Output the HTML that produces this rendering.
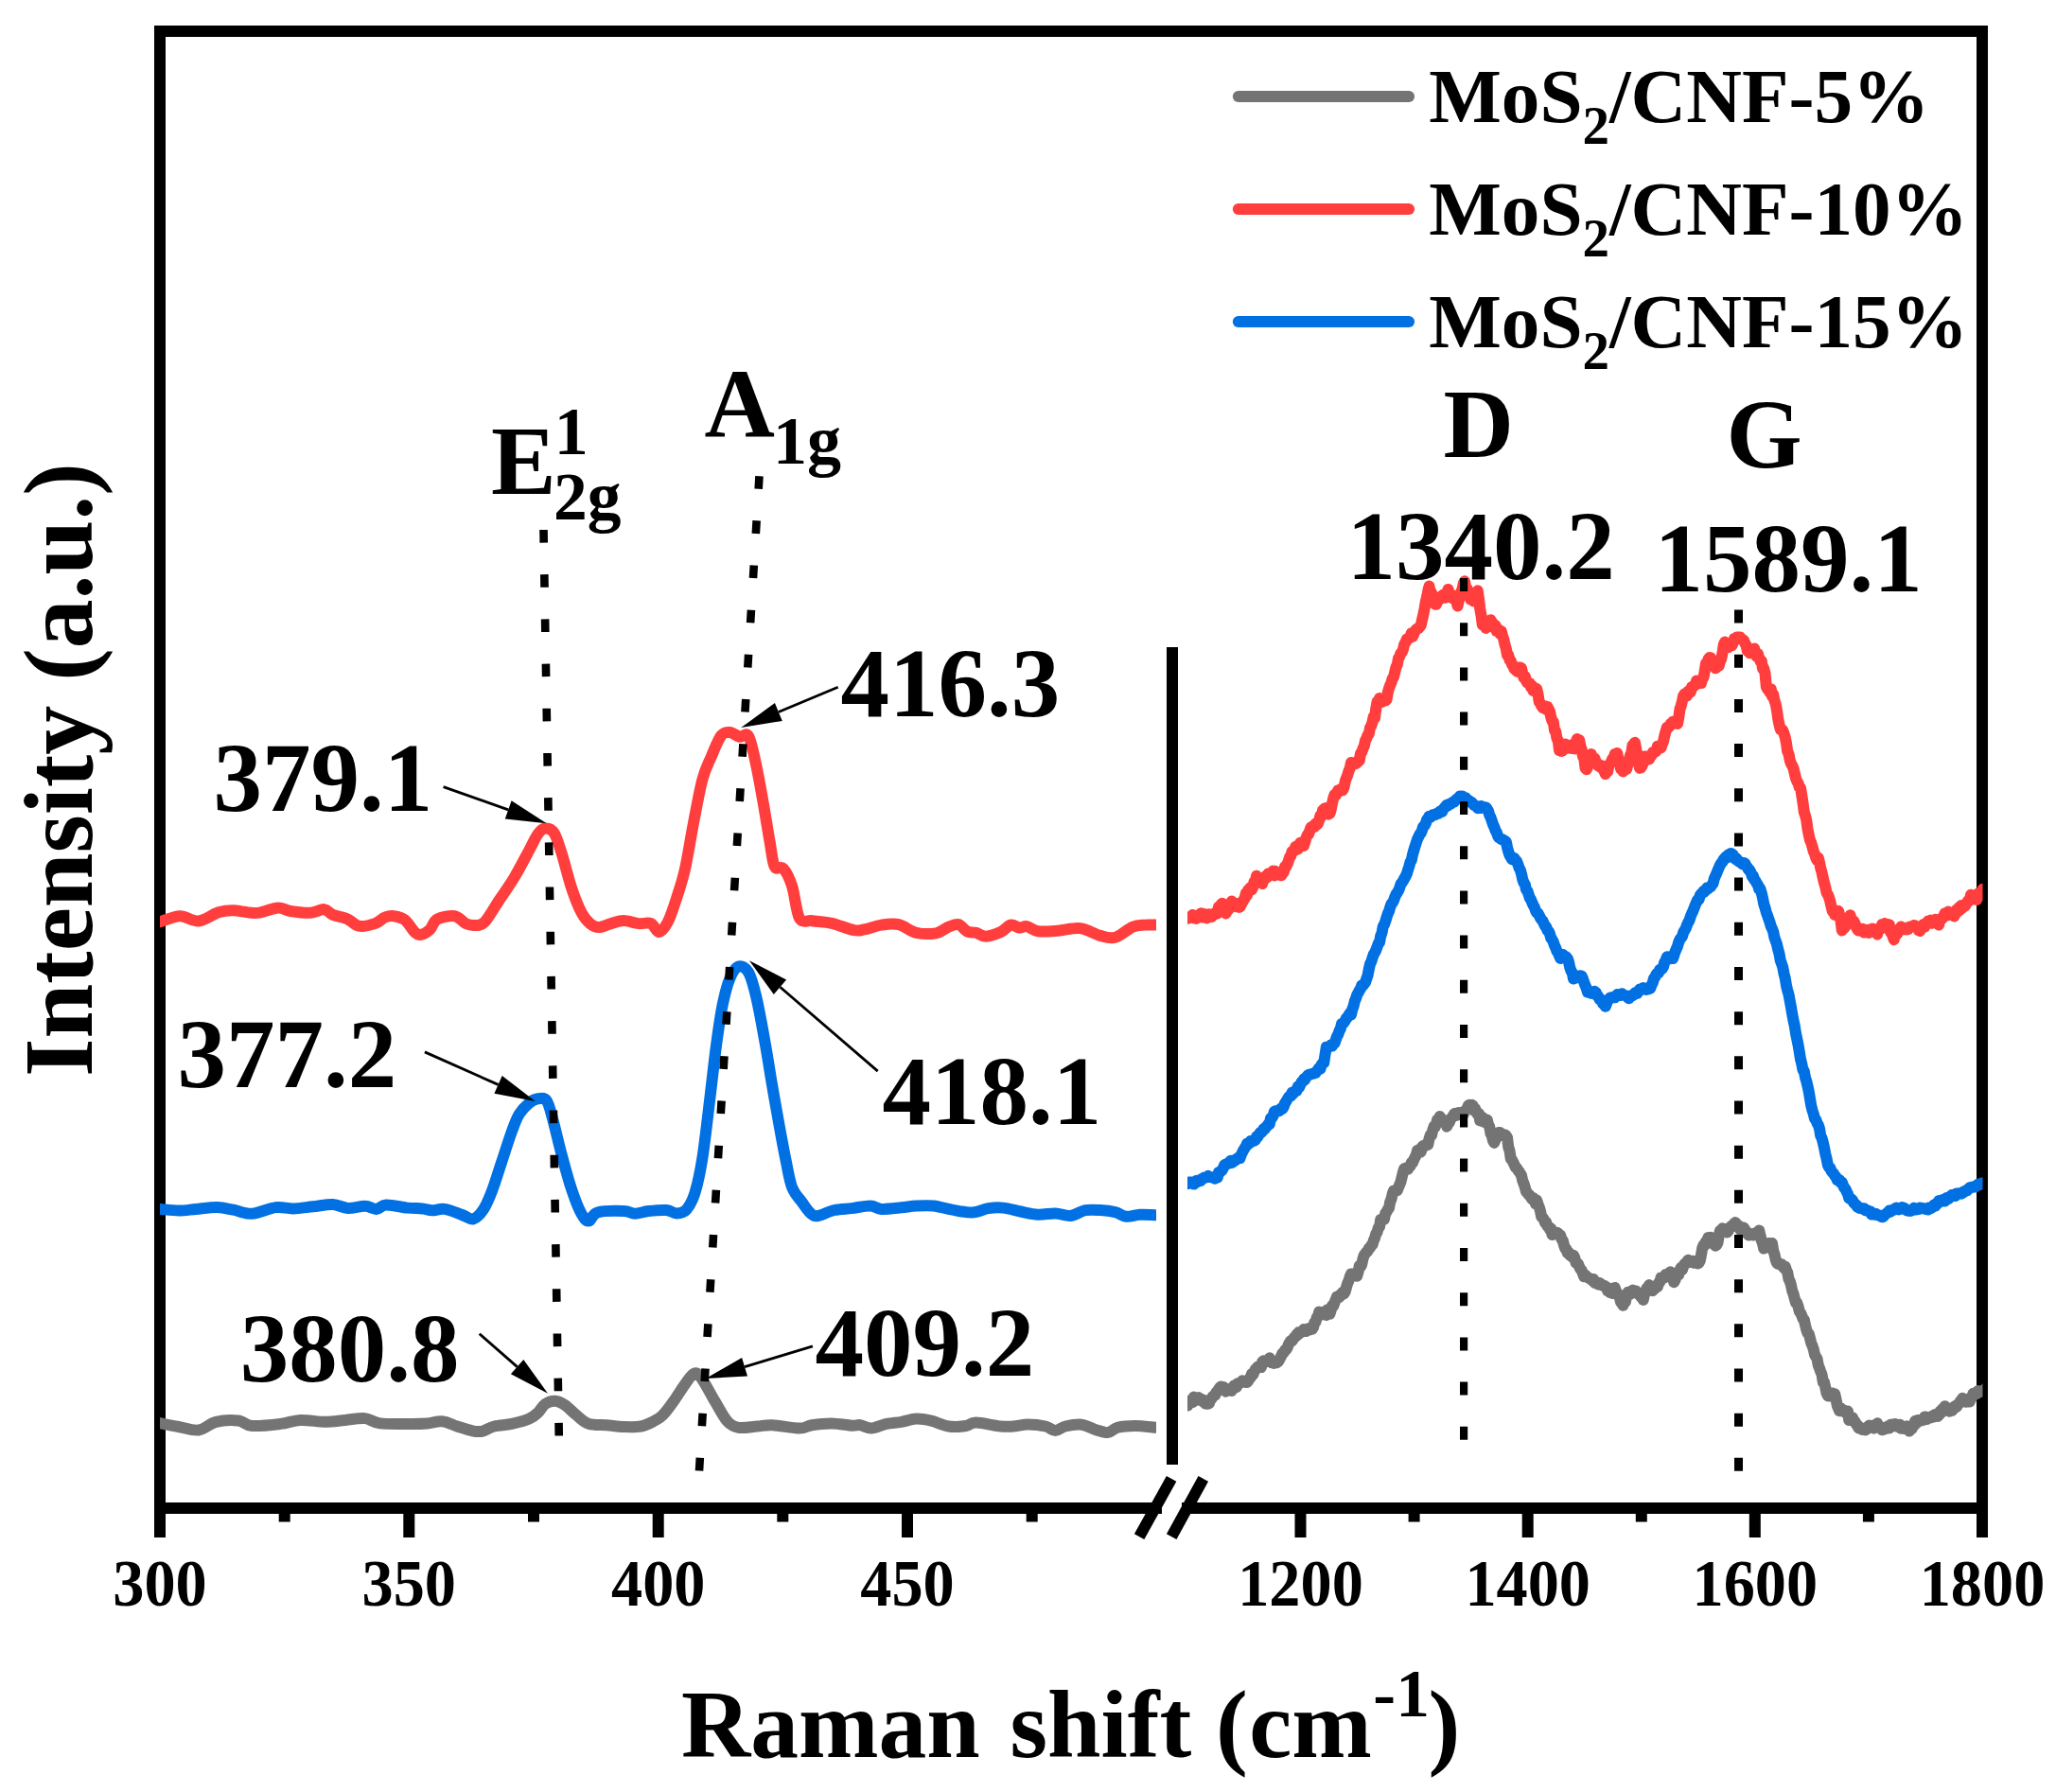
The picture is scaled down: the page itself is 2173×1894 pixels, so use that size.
<!DOCTYPE html>
<html><head><meta charset="utf-8"><title>Raman spectra</title>
<style>html,body{margin:0;padding:0;background:#fff}svg{display:block}text{font-family:"Liberation Serif",serif;font-weight:bold;fill:#000}</style></head><body>
<svg width="2173" height="1894" viewBox="0 0 2173 1894">
<rect x="0" y="0" width="2173" height="1894" fill="#fff"/>
<g id="frame" fill="none" stroke="#000" stroke-width="12" stroke-linecap="butt" stroke-linejoin="miter">
<path d="M169,1600 V33 H2095 V1600"/>
<path d="M163,1594 H1228"/>
<path d="M1249,1594 H2101"/>
<path d="M1238.1,1562.9 L1204.1,1624.2"/>
<path d="M1271.8,1562.9 L1238.2,1624.1"/>
<path d="M1239,684 V1548"/>
<path d="M169.0,1599 V1625 M432.3,1599 V1625 M695.7,1599 V1625 M959.0,1599 V1625 M1374.5,1599 V1625 M1614.7,1599 V1625 M1854.8,1599 V1625 M2095.0,1599 V1625 M300.7,1599 V1608.5 M564.0,1599 V1608.5 M827.3,1599 V1608.5 M1090.7,1599 V1608.5 M1494.6,1599 V1608.5 M1734.8,1599 V1608.5 M1974.9,1599 V1608.5"/>
</g>
<defs><clipPath id="cl"><rect x="169" y="39" width="1053" height="1549"/></clipPath><clipPath id="cr"><rect x="1255" y="39" width="840.5" height="1549"/></clipPath></defs>
<g id="curvesL" clip-path="url(#cl)">
<path d="M160.0,1502.3 C161.5,1502.6 164.4,1503.1 169.2,1504.1 C174.0,1505.1 182.1,1506.8 188.9,1508.0 C195.7,1509.2 203.3,1512.4 209.9,1511.5 C216.5,1510.6 221.3,1504.5 228.3,1502.8 C235.3,1501.1 245.6,1500.8 251.9,1501.5 C258.2,1502.2 258.9,1506.4 266.4,1507.0 C273.8,1507.6 288.1,1505.9 296.6,1504.9 C305.1,1503.9 309.7,1501.2 317.6,1500.9 C325.5,1500.6 336.0,1502.8 343.9,1502.8 C351.8,1502.8 357.9,1501.5 364.9,1500.9 C371.9,1500.3 379.8,1498.5 385.9,1499.1 C392.0,1499.7 393.4,1503.4 401.7,1504.4 C410.0,1505.4 427.5,1504.9 435.8,1504.9 C444.1,1504.9 446.4,1504.8 451.6,1504.4 C456.9,1504.0 462.1,1501.8 467.3,1502.3 C472.6,1502.8 477.9,1505.8 483.1,1507.5 C488.4,1509.2 494.4,1511.3 498.8,1512.2 C503.2,1513.1 505.4,1513.6 509.4,1512.8 C513.4,1512.0 517.2,1508.8 522.5,1507.5 C527.8,1506.2 534.8,1506.2 540.9,1504.9 C547.0,1503.6 554.7,1501.6 559.3,1499.6 C563.9,1497.6 565.7,1495.7 568.5,1493.1 C571.3,1490.5 573.2,1486.0 576.3,1483.9 C579.3,1481.8 583.3,1480.5 586.8,1480.7 C590.3,1480.9 593.7,1482.7 597.4,1485.2 C601.1,1487.7 605.1,1492.4 609.2,1495.7 C613.4,1499.0 617.0,1503.2 622.3,1504.9 C627.5,1506.7 634.6,1505.7 640.7,1506.2 C646.8,1506.7 653.0,1507.8 659.1,1508.0 C665.2,1508.2 672.2,1508.5 677.5,1507.5 C682.8,1506.5 686.8,1504.3 690.6,1502.3 C694.4,1500.3 696.7,1499.7 700.5,1495.7 C704.3,1491.8 709.7,1484.1 713.6,1478.6 C717.5,1473.1 720.8,1467.4 724.1,1462.9 C727.4,1458.4 730.4,1452.9 733.3,1451.8 C736.1,1450.7 737.5,1451.4 741.2,1456.3 C744.9,1461.2 751.1,1473.5 755.7,1481.2 C760.3,1488.9 764.6,1497.7 768.8,1502.3 C772.9,1506.9 775.4,1507.9 780.6,1508.8 C785.9,1509.7 794.4,1507.9 800.3,1507.5 C806.2,1507.1 808.6,1505.9 816.1,1506.2 C823.6,1506.5 838.0,1509.6 845.0,1509.6 C852.0,1509.6 852.4,1507.1 858.1,1506.2 C863.8,1505.3 872.1,1504.3 879.1,1504.4 C886.1,1504.5 895.1,1506.4 900.1,1506.7 C905.1,1507.0 905.8,1505.7 909.3,1506.2 C912.8,1506.7 916.5,1509.8 921.1,1509.6 C925.7,1509.4 931.6,1506.0 936.9,1504.9 C942.2,1503.8 947.5,1503.7 952.7,1502.8 C958.0,1501.9 963.1,1499.8 968.4,1499.6 C973.6,1499.4 978.5,1500.4 984.2,1501.7 C989.9,1503.0 996.5,1506.6 1002.6,1507.5 C1008.7,1508.4 1016.2,1507.7 1021.0,1507.0 C1025.8,1506.3 1025.4,1503.5 1031.5,1503.6 C1037.6,1503.7 1051.1,1506.8 1057.7,1507.5 C1064.3,1508.2 1066.1,1507.8 1070.9,1507.5 C1075.7,1507.2 1080.9,1505.4 1086.6,1505.4 C1092.3,1505.4 1100.2,1506.4 1105.0,1507.5 C1109.8,1508.6 1112.0,1512.0 1115.5,1512.0 C1119.0,1512.0 1121.4,1508.5 1126.0,1507.5 C1130.6,1506.5 1137.8,1505.1 1143.1,1505.7 C1148.4,1506.3 1153.0,1509.5 1157.6,1510.9 C1162.2,1512.3 1166.8,1514.4 1170.7,1514.1 C1174.6,1513.8 1176.4,1510.0 1181.2,1508.8 C1186.0,1507.6 1192.8,1507.0 1199.6,1507.0 C1206.4,1507.0 1216.8,1508.4 1221.9,1508.8 C1227.0,1509.2 1228.7,1509.3 1230.0,1509.5" fill="none" stroke="#747474" stroke-width="12" stroke-linejoin="round" stroke-linecap="butt"/>
<path d="M160.0,1277.2 C161.5,1277.3 164.4,1277.5 169.2,1277.9 C174.0,1278.3 182.6,1279.5 188.9,1279.5 C195.2,1279.5 200.5,1278.5 207.3,1277.9 C214.1,1277.3 223.0,1276.0 229.6,1276.1 C236.2,1276.2 240.6,1277.6 246.7,1278.7 C252.8,1279.8 259.0,1283.1 266.4,1282.7 C273.8,1282.3 284.1,1277.0 291.3,1276.1 C298.5,1275.2 303.1,1277.5 309.7,1277.4 C316.3,1277.3 323.7,1276.0 330.7,1275.3 C337.7,1274.6 345.7,1272.7 351.8,1273.0 C357.9,1273.3 361.8,1276.6 367.5,1276.9 C373.2,1277.2 380.9,1274.6 385.9,1274.8 C390.9,1275.0 394.0,1278.1 397.7,1277.9 C401.4,1277.7 402.7,1273.7 408.2,1273.5 C413.7,1273.3 424.2,1275.9 430.6,1276.6 C437.0,1277.2 441.9,1277.0 446.3,1277.4 C450.7,1277.9 452.9,1279.2 456.8,1279.3 C460.8,1279.4 464.8,1277.1 470.0,1277.9 C475.2,1278.7 483.3,1282.2 488.3,1284.0 C493.3,1285.8 496.5,1289.3 500.2,1288.4 C503.9,1287.5 507.4,1283.6 510.7,1278.7 C514.0,1273.8 516.6,1267.5 519.9,1259.0 C523.2,1250.5 526.9,1238.0 530.4,1227.5 C533.9,1217.0 537.8,1204.3 540.9,1196.0 C544.0,1187.7 545.6,1182.6 548.7,1177.6 C551.8,1172.6 556.0,1168.5 559.3,1165.8 C562.6,1163.1 565.4,1161.7 568.5,1161.3 C571.6,1160.9 575.1,1159.6 577.7,1163.2 C580.3,1166.8 581.6,1173.5 584.2,1182.9 C586.8,1192.3 590.1,1207.3 593.4,1219.6 C596.7,1231.8 600.4,1245.9 603.9,1256.4 C607.4,1266.9 611.3,1277.0 614.4,1282.7 C617.5,1288.4 619.4,1290.7 622.3,1290.5 C625.1,1290.3 625.4,1283.2 631.5,1281.4 C637.6,1279.7 652.5,1279.8 659.1,1280.0 C665.7,1280.2 666.5,1282.7 670.9,1282.7 C675.3,1282.7 679.7,1280.6 685.3,1280.0 C690.9,1279.4 699.4,1278.6 704.4,1279.0 C709.4,1279.4 711.5,1282.5 715.0,1282.4 C718.5,1282.3 722.2,1282.1 725.5,1278.4 C728.8,1274.7 731.9,1269.2 734.7,1260.0 C737.5,1250.8 739.9,1239.9 742.5,1223.3 C745.1,1206.7 748.0,1179.9 750.4,1160.2 C752.8,1140.5 754.8,1121.3 757.0,1105.1 C759.2,1088.9 761.1,1074.8 763.5,1063.0 C765.9,1051.2 768.5,1041.0 771.4,1034.1 C774.2,1027.2 777.3,1022.6 780.6,1021.5 C783.9,1020.4 788.0,1022.4 791.1,1027.6 C794.2,1032.8 796.1,1040.5 799.0,1052.5 C801.9,1064.5 805.4,1084.0 808.2,1099.8 C811.1,1115.6 813.5,1131.8 816.1,1147.1 C818.7,1162.4 821.6,1178.7 824.0,1191.8 C826.4,1204.9 828.3,1215.4 830.5,1225.9 C832.7,1236.4 834.2,1247.3 837.1,1254.8 C840.0,1262.2 844.3,1266.0 847.6,1270.6 C850.9,1275.2 853.9,1280.0 856.8,1282.4 C859.6,1284.8 860.5,1285.6 864.7,1285.0 C868.9,1284.4 875.9,1280.3 881.8,1279.0 C887.7,1277.7 893.8,1277.8 900.1,1277.1 C906.4,1276.3 914.5,1274.4 919.8,1274.5 C925.1,1274.6 926.2,1277.6 931.7,1277.9 C937.2,1278.2 946.6,1276.9 952.7,1276.3 C958.8,1275.7 962.7,1274.8 968.4,1274.5 C974.1,1274.2 980.7,1273.8 986.8,1274.5 C992.9,1275.2 998.4,1277.2 1005.2,1278.4 C1012.0,1279.6 1020.9,1281.8 1027.5,1281.6 C1034.1,1281.4 1039.1,1277.9 1044.6,1277.1 C1050.1,1276.3 1054.7,1276.0 1060.4,1276.6 C1066.1,1277.2 1072.7,1279.3 1078.8,1280.5 C1084.9,1281.7 1091.0,1283.4 1097.1,1283.7 C1103.2,1284.0 1109.8,1282.2 1115.5,1282.4 C1121.2,1282.6 1126.0,1285.5 1131.3,1285.0 C1136.5,1284.5 1141.8,1280.2 1147.0,1279.2 C1152.2,1278.2 1157.5,1278.7 1162.8,1279.0 C1168.1,1279.3 1174.0,1280.0 1178.6,1281.1 C1183.2,1282.2 1186.0,1285.4 1190.4,1285.8 C1194.8,1286.2 1199.5,1284.0 1204.8,1283.7 C1210.0,1283.4 1217.7,1284.1 1221.9,1284.2 C1226.1,1284.3 1228.7,1284.4 1230.0,1284.4" fill="none" stroke="#0070E3" stroke-width="12" stroke-linejoin="round" stroke-linecap="butt"/>
<path d="M160.0,977.0 C161.5,976.5 164.2,975.8 169.2,974.3 C174.2,972.8 183.4,968.3 190.2,968.2 C197.0,968.1 203.1,974.1 209.9,973.5 C216.7,972.9 224.8,966.2 230.9,964.3 C237.0,962.4 241.0,962.1 246.7,962.2 C252.4,962.3 260.3,964.4 265.1,964.8 C269.9,965.1 270.8,965.2 275.6,964.3 C280.4,963.4 288.8,959.8 294.0,959.6 C299.2,959.4 301.4,962.1 307.1,963.0 C312.8,963.9 322.2,965.1 328.1,964.8 C334.0,964.5 338.7,960.8 342.6,961.1 C346.6,961.5 347.7,965.2 351.8,966.9 C355.9,968.6 362.9,969.4 367.5,971.4 C372.1,973.4 374.5,977.9 379.3,978.7 C384.1,979.5 391.8,977.6 396.4,976.1 C401.0,974.6 403.6,970.8 406.9,969.5 C410.2,968.2 412.6,967.8 416.1,968.2 C419.6,968.7 424.2,969.4 427.9,972.2 C431.6,975.1 435.5,982.7 438.4,985.3 C441.2,987.9 442.4,988.3 445.0,987.9 C447.6,987.5 451.3,985.4 454.2,982.7 C457.1,980.0 457.7,974.0 462.1,971.6 C466.5,969.2 475.5,967.5 480.5,968.2 C485.5,969.0 488.8,974.5 492.3,976.1 C495.8,977.7 498.2,978.1 501.5,977.9 C504.8,977.7 507.6,979.2 512.0,974.8 C516.4,970.3 522.5,959.1 527.8,951.2 C533.0,943.3 538.2,936.3 543.5,927.5 C548.8,918.7 555.1,906.3 559.3,898.6 C563.5,890.9 565.7,885.4 568.5,881.5 C571.3,877.6 573.5,875.7 576.3,875.5 C579.1,875.3 582.6,875.9 585.5,880.2 C588.4,884.5 590.3,891.6 593.4,901.2 C596.5,910.8 600.4,927.5 603.9,938.0 C607.4,948.5 611.1,957.9 614.4,964.3 C617.7,970.6 620.5,973.5 623.6,976.1 C626.7,978.7 629.1,980.0 632.8,980.0 C636.5,980.0 641.5,977.3 645.9,976.1 C650.3,974.9 654.3,973.0 659.1,973.0 C663.9,973.0 670.0,975.6 674.8,976.1 C679.6,976.6 684.4,974.6 688.0,976.1 C691.6,977.6 693.6,985.3 696.6,985.0 C699.6,984.7 702.7,980.4 705.8,974.5 C708.9,968.6 712.0,958.9 715.0,949.5 C718.0,940.1 721.1,931.6 724.1,918.0 C727.1,904.4 730.2,883.9 733.3,868.1 C736.4,852.4 739.4,834.9 742.5,823.5 C745.6,812.1 748.4,807.5 751.7,799.8 C755.0,792.1 758.9,781.8 762.2,777.5 C765.5,773.2 768.1,773.9 771.4,774.1 C774.7,774.3 778.6,778.1 781.9,778.8 C785.2,779.4 788.2,773.2 791.1,778.0 C794.0,782.8 796.4,795.8 799.0,807.7 C801.6,819.7 804.5,836.1 806.9,849.7 C809.3,863.3 811.5,878.1 813.5,889.1 C815.5,900.1 816.3,911.1 818.7,915.9 C821.1,920.7 824.8,914.6 827.9,918.0 C831.0,921.4 834.2,927.6 837.1,936.4 C840.0,945.2 841.5,964.5 845.0,970.6 C848.5,976.7 852.4,972.3 858.1,973.2 C863.8,974.1 871.7,974.1 879.1,975.8 C886.5,977.5 897.1,982.1 902.8,983.2 C908.5,984.3 908.5,983.3 913.3,982.4 C918.1,981.5 925.6,978.5 931.7,977.6 C937.8,976.7 943.9,975.7 950.0,977.1 C956.1,978.5 961.8,984.3 968.4,985.8 C975.0,987.3 983.7,987.3 989.4,986.3 C995.1,985.3 998.6,981.2 1002.6,979.7 C1006.6,978.2 1009.8,976.3 1013.1,977.1 C1016.4,977.9 1019.2,983.0 1022.3,984.5 C1025.4,986.0 1028.2,984.9 1031.5,985.8 C1034.8,986.7 1037.6,989.8 1042.0,989.7 C1046.4,989.6 1053.3,987.0 1057.7,985.0 C1062.1,983.0 1064.9,978.4 1068.2,977.6 C1071.5,976.9 1074.6,980.2 1077.4,980.5 C1080.2,980.8 1082.0,978.6 1085.3,979.2 C1088.6,979.8 1091.6,983.5 1097.1,984.2 C1102.6,985.0 1110.6,984.2 1118.1,983.7 C1125.5,983.2 1134.3,980.2 1141.8,981.1 C1149.2,982.0 1156.7,987.3 1162.8,988.9 C1168.9,990.5 1172.9,992.3 1178.6,990.8 C1184.3,989.3 1191.8,981.9 1197.0,979.7 C1202.2,977.5 1205.9,978.0 1210.1,977.6 C1214.2,977.2 1218.6,977.6 1221.9,977.6 C1225.2,977.6 1228.7,977.6 1230.0,977.6" fill="none" stroke="#FF3E3D" stroke-width="12" stroke-linejoin="round" stroke-linecap="butt"/>
</g>
<g id="curvesR" clip-path="url(#cr)">
<polyline points="1248.0,1489.7 1249.2,1485.8 1250.5,1485.2 1251.8,1483.7 1253.0,1485.7 1254.2,1480.5 1255.5,1485.5 1256.8,1481.2 1258.0,1482.0 1259.2,1480.5 1260.5,1482.1 1261.8,1476.5 1263.0,1478.2 1264.2,1477.4 1265.5,1479.7 1266.8,1477.1 1268.0,1479.0 1269.2,1478.6 1270.5,1480.4 1271.8,1481.7 1273.0,1479.9 1274.2,1483.6 1275.5,1483.8 1276.8,1483.8 1278.0,1483.1 1279.2,1479.3 1280.5,1478.5 1281.8,1475.8 1283.0,1475.2 1284.2,1474.8 1285.5,1471.5 1286.8,1470.4 1288.0,1468.4 1289.2,1466.6 1290.5,1465.6 1291.8,1467.0 1293.0,1465.9 1294.2,1468.3 1295.5,1470.7 1296.8,1469.9 1298.0,1469.1 1299.2,1468.5 1300.5,1467.7 1301.8,1470.0 1303.0,1466.6 1304.2,1464.6 1305.5,1464.6 1306.8,1466.2 1308.0,1462.3 1309.2,1462.6 1310.5,1461.9 1311.8,1460.7 1313.0,1459.4 1314.2,1460.2 1315.5,1460.1 1316.8,1461.0 1318.0,1461.0 1319.2,1459.7 1320.5,1457.0 1321.8,1456.1 1323.0,1451.9 1324.2,1453.0 1325.5,1450.1 1326.8,1447.2 1328.0,1446.5 1329.2,1444.5 1330.5,1445.3 1331.8,1445.0 1333.0,1445.1 1334.2,1439.2 1335.5,1438.2 1336.8,1438.7 1338.0,1438.7 1339.2,1438.9 1340.5,1438.1 1341.8,1435.3 1343.0,1438.1 1344.2,1440.1 1345.5,1439.7 1346.8,1440.8 1348.0,1439.9 1349.2,1440.3 1350.5,1439.5 1351.8,1437.8 1353.0,1435.4 1354.2,1433.3 1355.5,1430.1 1356.8,1429.5 1358.0,1427.1 1359.2,1426.5 1360.5,1424.6 1361.8,1421.1 1363.0,1418.9 1364.2,1417.1 1365.5,1417.3 1366.8,1415.4 1368.0,1413.5 1369.2,1412.7 1370.5,1410.4 1371.8,1410.8 1373.0,1407.9 1374.2,1408.9 1375.5,1407.5 1376.8,1407.6 1378.0,1405.0 1379.2,1406.5 1380.5,1407.1 1381.8,1404.5 1383.0,1405.2 1384.2,1405.4 1385.5,1403.2 1386.8,1404.8 1388.0,1403.0 1389.2,1398.0 1390.5,1397.1 1391.8,1392.2 1393.0,1391.4 1394.2,1386.5 1395.5,1389.9 1396.8,1388.6 1398.0,1387.8 1399.2,1386.5 1400.5,1389.2 1401.8,1389.9 1403.0,1384.3 1404.2,1388.5 1405.5,1388.8 1406.8,1384.6 1408.0,1380.0 1409.2,1380.5 1410.5,1376.7 1411.8,1373.7 1413.0,1370.4 1414.2,1371.6 1415.5,1371.0 1416.8,1368.1 1418.0,1368.8 1419.2,1365.6 1420.5,1367.4 1421.8,1365.1 1423.0,1360.5 1424.2,1356.4 1425.5,1353.6 1426.8,1349.2 1428.0,1346.5 1429.2,1346.4 1430.5,1346.7 1431.8,1347.9 1433.0,1347.7 1434.2,1348.8 1435.5,1344.5 1436.8,1337.7 1438.0,1338.8 1439.2,1336.6 1440.5,1330.4 1441.8,1326.4 1443.0,1324.9 1444.2,1323.5 1445.5,1322.3 1446.8,1319.3 1448.0,1318.7 1449.2,1316.6 1450.5,1315.6 1451.8,1311.2 1453.0,1308.7 1454.2,1304.2 1455.5,1302.3 1456.8,1297.6 1458.0,1296.9 1459.2,1289.0 1460.5,1288.6 1461.8,1288.5 1463.0,1288.6 1464.2,1282.6 1465.5,1280.8 1466.8,1278.2 1468.0,1277.0 1469.2,1270.4 1470.5,1267.4 1471.8,1261.6 1473.0,1258.4 1474.2,1259.4 1475.5,1258.4 1476.8,1258.3 1478.0,1255.0 1479.2,1252.3 1480.5,1249.0 1481.8,1243.5 1483.0,1238.6 1484.2,1235.0 1485.5,1236.0 1486.8,1234.2 1488.0,1235.7 1489.2,1233.8 1490.5,1232.5 1491.8,1228.6 1493.0,1229.0 1494.2,1225.8 1495.5,1223.3 1496.8,1220.7 1498.0,1216.0 1499.2,1217.1 1500.5,1214.6 1501.8,1217.5 1503.0,1212.2 1504.2,1211.0 1505.5,1210.5 1506.8,1211.0 1508.0,1208.6 1509.2,1209.9 1510.5,1203.8 1511.8,1199.5 1513.0,1200.0 1514.2,1194.7 1515.5,1190.8 1516.8,1190.9 1518.0,1187.6 1519.2,1183.2 1520.5,1182.8 1521.8,1179.9 1523.0,1183.3 1524.2,1183.0 1525.5,1185.7 1526.8,1184.9 1528.0,1184.3 1529.2,1190.7 1530.5,1187.7 1531.8,1186.2 1533.0,1183.2 1534.2,1181.6 1535.5,1179.9 1536.8,1177.5 1538.0,1176.8 1539.2,1179.0 1540.5,1177.0 1541.8,1176.0 1543.0,1176.7 1544.2,1178.0 1545.5,1175.9 1546.8,1177.8 1548.0,1174.4 1549.2,1173.2 1550.5,1172.1 1551.8,1168.6 1553.0,1167.8 1554.2,1168.4 1555.5,1167.7 1556.8,1168.6 1558.0,1174.0 1559.2,1172.0 1560.5,1175.6 1561.8,1178.1 1563.0,1176.8 1564.2,1184.5 1565.5,1182.6 1566.8,1181.0 1568.0,1185.7 1569.2,1184.0 1570.5,1184.2 1571.8,1183.6 1573.0,1188.7 1574.2,1190.6 1575.5,1198.1 1576.8,1200.6 1578.0,1205.5 1579.2,1207.9 1580.5,1204.6 1581.8,1202.5 1583.0,1200.4 1584.2,1197.0 1585.5,1197.1 1586.8,1198.8 1588.0,1199.0 1589.2,1200.4 1590.5,1199.2 1591.8,1200.4 1593.0,1202.1 1594.2,1212.1 1595.5,1216.2 1596.8,1224.8 1598.0,1225.9 1599.2,1228.2 1600.5,1230.9 1601.8,1233.9 1603.0,1234.5 1604.2,1236.6 1605.5,1238.2 1606.8,1240.3 1608.0,1242.2 1609.2,1247.6 1610.5,1251.0 1611.8,1254.9 1613.0,1259.5 1614.2,1260.6 1615.5,1262.6 1616.8,1263.4 1618.0,1265.5 1619.2,1267.2 1620.5,1265.9 1621.8,1269.1 1623.0,1272.3 1624.2,1268.5 1625.5,1272.6 1626.8,1275.9 1628.0,1280.0 1629.2,1286.0 1630.5,1287.0 1631.8,1288.9 1633.0,1292.3 1634.2,1292.1 1635.5,1296.1 1636.8,1296.6 1638.0,1299.6 1639.2,1298.3 1640.5,1305.1 1641.8,1302.9 1643.0,1303.3 1644.2,1303.1 1645.5,1302.8 1646.8,1303.4 1648.0,1305.1 1649.2,1305.5 1650.5,1309.9 1651.8,1311.2 1653.0,1316.1 1654.2,1319.5 1655.5,1320.1 1656.8,1324.5 1658.0,1323.6 1659.2,1326.6 1660.5,1326.7 1661.8,1328.7 1663.0,1326.8 1664.2,1329.2 1665.5,1334.5 1666.8,1334.7 1668.0,1335.9 1669.2,1339.1 1670.5,1341.5 1671.8,1342.9 1673.0,1346.1 1674.2,1349.3 1675.5,1347.7 1676.8,1349.6 1678.0,1349.8 1679.2,1350.8 1680.5,1351.3 1681.8,1352.0 1683.0,1353.6 1684.2,1352.0 1685.5,1355.7 1686.8,1356.3 1688.0,1355.4 1689.2,1357.5 1690.5,1356.0 1691.8,1356.9 1693.0,1358.5 1694.2,1358.6 1695.5,1358.9 1696.8,1359.7 1698.0,1361.1 1699.2,1364.4 1700.5,1361.5 1701.8,1366.0 1703.0,1366.1 1704.2,1366.9 1705.5,1366.0 1706.8,1360.9 1708.0,1365.0 1709.2,1366.3 1710.5,1368.9 1711.8,1371.2 1713.0,1376.1 1714.2,1377.4 1715.5,1379.8 1716.8,1375.7 1718.0,1375.7 1719.2,1369.3 1720.5,1365.7 1721.8,1368.0 1723.0,1367.8 1724.2,1366.2 1725.5,1363.6 1726.8,1364.7 1728.0,1365.7 1729.2,1364.6 1730.5,1366.3 1731.8,1367.9 1733.0,1368.5 1734.2,1370.8 1735.5,1371.2 1736.8,1373.9 1738.0,1367.9 1739.2,1366.3 1740.5,1361.4 1741.8,1361.6 1743.0,1358.1 1744.2,1362.2 1745.5,1361.0 1746.8,1364.2 1748.0,1359.6 1749.2,1361.7 1750.5,1360.7 1751.8,1360.2 1753.0,1356.2 1754.2,1355.2 1755.5,1350.4 1756.8,1350.5 1758.0,1350.9 1759.2,1350.3 1760.5,1346.9 1761.8,1348.7 1763.0,1346.8 1764.2,1345.5 1765.5,1344.2 1766.8,1347.1 1768.0,1350.5 1769.2,1355.2 1770.5,1352.9 1771.8,1347.0 1773.0,1347.2 1774.2,1347.3 1775.5,1342.1 1776.8,1339.7 1778.0,1342.2 1779.2,1338.0 1780.5,1335.8 1781.8,1335.6 1783.0,1333.7 1784.2,1331.7 1785.5,1333.9 1786.8,1334.0 1788.0,1333.9 1789.2,1332.8 1790.5,1334.8 1791.8,1333.4 1793.0,1334.4 1794.2,1335.4 1795.5,1335.0 1796.8,1332.3 1798.0,1326.3 1799.2,1319.2 1800.5,1315.8 1801.8,1316.2 1803.0,1312.1 1804.2,1311.4 1805.5,1307.9 1806.8,1308.8 1808.0,1307.7 1809.2,1312.2 1810.5,1311.3 1811.8,1315.5 1813.0,1316.8 1814.2,1315.9 1815.5,1313.4 1816.8,1305.6 1818.0,1300.7 1819.2,1299.9 1820.5,1298.4 1821.8,1298.9 1823.0,1299.7 1824.2,1299.2 1825.5,1302.5 1826.8,1300.7 1828.0,1298.1 1829.2,1296.4 1830.5,1295.5 1831.8,1295.7 1833.0,1293.0 1834.2,1292.1 1835.5,1295.0 1836.8,1294.8 1838.0,1295.8 1839.2,1299.7 1840.5,1297.6 1841.8,1298.6 1843.0,1297.6 1844.2,1299.5 1845.5,1303.1 1846.8,1302.6 1848.0,1305.4 1849.2,1304.2 1850.5,1304.0 1851.8,1305.2 1853.0,1305.5 1854.2,1303.5 1855.5,1303.6 1856.8,1303.5 1858.0,1301.8 1859.2,1300.5 1860.5,1305.9 1861.8,1311.2 1863.0,1314.1 1864.2,1319.6 1865.5,1317.0 1866.8,1317.4 1868.0,1318.5 1869.2,1313.9 1870.5,1314.8 1871.8,1315.6 1873.0,1314.0 1874.2,1321.7 1875.5,1325.8 1876.8,1331.8 1878.0,1334.9 1879.2,1335.9 1880.5,1335.3 1881.8,1336.7 1883.0,1336.2 1884.2,1338.3 1885.5,1340.3 1886.8,1338.7 1888.0,1342.3 1889.2,1344.8 1890.5,1351.9 1891.8,1354.3 1893.0,1358.4 1894.2,1364.2 1895.5,1367.5 1896.8,1372.7 1898.0,1377.0 1899.2,1377.1 1900.5,1380.8 1901.8,1386.0 1903.0,1387.7 1904.2,1390.2 1905.5,1393.8 1906.8,1394.9 1908.0,1400.4 1909.2,1405.2 1910.5,1409.3 1911.8,1409.8 1913.0,1414.5 1914.2,1419.4 1915.5,1422.4 1916.8,1426.2 1918.0,1431.6 1919.2,1434.1 1920.5,1436.1 1921.8,1443.1 1923.0,1446.0 1924.2,1449.6 1925.5,1452.6 1926.8,1460.7 1928.0,1460.7 1929.2,1466.0 1930.5,1472.5 1931.8,1475.2 1933.0,1475.6 1934.2,1472.5 1935.5,1474.1 1936.8,1472.6 1938.0,1476.4 1939.2,1473.2 1940.5,1478.9 1941.8,1485.6 1943.0,1488.5 1944.2,1491.3 1945.5,1488.3 1946.8,1490.4 1948.0,1491.5 1949.2,1490.5 1950.5,1493.0 1951.8,1493.1 1953.0,1491.6 1954.2,1501.1 1955.5,1498.0 1956.8,1498.9 1958.0,1498.4 1959.2,1501.9 1960.5,1502.4 1961.8,1505.2 1963.0,1506.0 1964.2,1509.3 1965.5,1508.2 1966.8,1510.0 1968.0,1511.0 1969.2,1510.7 1970.5,1510.1 1971.8,1511.4 1973.0,1510.4 1974.2,1507.8 1975.5,1506.6 1976.8,1507.5 1978.0,1508.6 1979.2,1506.8 1980.5,1509.5 1981.8,1506.2 1983.0,1507.8 1984.2,1504.3 1985.5,1507.3 1986.8,1507.9 1988.0,1509.3 1989.2,1511.3 1990.5,1508.9 1991.8,1510.7 1993.0,1509.3 1994.2,1509.5 1995.5,1507.2 1996.8,1509.5 1998.0,1505.8 1999.2,1507.8 2000.5,1505.5 2001.8,1506.1 2003.0,1504.9 2004.2,1506.4 2005.5,1507.8 2006.8,1507.4 2008.0,1505.7 2009.2,1509.8 2010.5,1508.5 2011.8,1509.9 2013.0,1510.1 2014.2,1508.5 2015.5,1507.2 2016.8,1509.1 2018.0,1512.5 2019.2,1509.4 2020.5,1510.4 2021.8,1506.8 2023.0,1506.6 2024.2,1501.8 2025.5,1504.4 2026.8,1501.1 2028.0,1502.1 2029.2,1500.8 2030.5,1501.4 2031.8,1499.9 2033.0,1500.8 2034.2,1497.4 2035.5,1497.7 2036.8,1499.9 2038.0,1498.5 2039.2,1497.9 2040.5,1497.6 2041.8,1498.1 2043.0,1496.2 2044.2,1497.4 2045.5,1495.0 2046.8,1495.3 2048.0,1496.9 2049.2,1495.8 2050.5,1491.6 2051.8,1493.0 2053.0,1489.1 2054.2,1490.4 2055.5,1486.3 2056.8,1487.6 2058.0,1488.7 2059.2,1489.4 2060.5,1491.8 2061.8,1491.1 2063.0,1491.1 2064.2,1489.7 2065.5,1486.8 2066.8,1485.9 2068.0,1486.9 2069.2,1484.6 2070.5,1483.4 2071.8,1480.9 2073.0,1481.9 2074.2,1477.8 2075.5,1480.8 2076.8,1479.7 2078.0,1481.8 2079.2,1479.8 2080.5,1479.7 2081.8,1481.6 2083.0,1476.8 2084.2,1477.3 2085.5,1472.7 2086.8,1474.0 2088.0,1473.0 2089.2,1473.0 2090.5,1470.1 2091.8,1471.4 2093.0,1471.0 2094.2,1470.1 2095.5,1469.9 2096.8,1469.9 2098.0,1469.4 2099.2,1467.0 2100.5,1466.3 2101.8,1471.1 2102.0,1467.5" fill="none" stroke="#747474" stroke-width="12" stroke-linejoin="round" stroke-linecap="butt"/>
<polyline points="1248.0,1251.4 1249.2,1251.5 1250.5,1249.7 1251.8,1252.5 1253.0,1249.6 1254.2,1250.2 1255.5,1251.1 1256.8,1249.5 1258.0,1249.4 1259.2,1249.4 1260.5,1250.4 1261.8,1251.6 1263.0,1249.6 1264.2,1248.2 1265.5,1249.0 1266.8,1247.5 1268.0,1247.4 1269.2,1247.8 1270.5,1245.7 1271.8,1245.7 1273.0,1244.4 1274.2,1244.4 1275.5,1244.2 1276.8,1242.9 1278.0,1243.8 1279.2,1244.3 1280.5,1244.3 1281.8,1244.2 1283.0,1244.4 1284.2,1245.8 1285.5,1244.4 1286.8,1244.6 1288.0,1239.0 1289.2,1239.3 1290.5,1237.7 1291.8,1236.7 1293.0,1234.2 1294.2,1231.3 1295.5,1230.6 1296.8,1230.5 1298.0,1229.2 1299.2,1229.5 1300.5,1226.8 1301.8,1229.1 1303.0,1228.3 1304.2,1226.3 1305.5,1226.4 1306.8,1225.4 1308.0,1224.1 1309.2,1224.3 1310.5,1224.1 1311.8,1220.5 1313.0,1218.0 1314.2,1215.7 1315.5,1213.6 1316.8,1211.8 1318.0,1208.8 1319.2,1209.1 1320.5,1208.3 1321.8,1206.0 1323.0,1206.5 1324.2,1206.1 1325.5,1205.6 1326.8,1205.2 1328.0,1201.6 1329.2,1201.6 1330.5,1199.4 1331.8,1197.1 1333.0,1197.0 1334.2,1195.6 1335.5,1193.3 1336.8,1193.3 1338.0,1191.1 1339.2,1190.2 1340.5,1188.0 1341.8,1188.0 1343.0,1182.0 1344.2,1181.6 1345.5,1179.7 1346.8,1175.0 1348.0,1174.3 1349.2,1174.0 1350.5,1174.3 1351.8,1174.2 1353.0,1172.5 1354.2,1171.3 1355.5,1172.0 1356.8,1169.6 1358.0,1166.0 1359.2,1164.4 1360.5,1162.1 1361.8,1160.0 1363.0,1158.5 1364.2,1158.4 1365.5,1154.7 1366.8,1155.9 1368.0,1154.2 1369.2,1152.6 1370.5,1152.7 1371.8,1148.4 1373.0,1149.3 1374.2,1146.8 1375.5,1143.7 1376.8,1143.1 1378.0,1140.7 1379.2,1141.1 1380.5,1138.6 1381.8,1137.1 1383.0,1135.8 1384.2,1135.6 1385.5,1135.5 1386.8,1135.0 1388.0,1134.5 1389.2,1134.4 1390.5,1133.9 1391.8,1132.1 1393.0,1130.4 1394.2,1128.6 1395.5,1129.8 1396.8,1125.0 1398.0,1123.8 1399.2,1123.4 1400.5,1114.8 1401.8,1106.8 1403.0,1106.8 1404.2,1106.8 1405.5,1106.0 1406.8,1104.3 1408.0,1105.6 1409.2,1103.0 1410.5,1102.6 1411.8,1099.0 1413.0,1095.4 1414.2,1093.5 1415.5,1089.6 1416.8,1087.4 1418.0,1082.2 1419.2,1082.3 1420.5,1080.5 1421.8,1078.7 1423.0,1075.9 1424.2,1075.2 1425.5,1072.7 1426.8,1070.7 1428.0,1072.5 1429.2,1066.9 1430.5,1063.8 1431.8,1058.2 1433.0,1055.4 1434.2,1051.6 1435.5,1049.3 1436.8,1046.9 1438.0,1044.9 1439.2,1041.5 1440.5,1041.8 1441.8,1039.8 1443.0,1038.4 1444.2,1034.6 1445.5,1031.2 1446.8,1024.5 1448.0,1018.9 1449.2,1016.7 1450.5,1012.5 1451.8,1008.8 1453.0,1006.9 1454.2,1004.4 1455.5,1000.9 1456.8,997.2 1458.0,996.1 1459.2,989.4 1460.5,986.0 1461.8,979.1 1463.0,977.2 1464.2,974.0 1465.5,969.6 1466.8,965.7 1468.0,963.2 1469.2,959.1 1470.5,955.4 1471.8,954.0 1473.0,951.7 1474.2,948.3 1475.5,945.2 1476.8,943.5 1478.0,941.3 1479.2,938.6 1480.5,934.4 1481.8,932.8 1483.0,930.9 1484.2,928.6 1485.5,926.4 1486.8,923.7 1488.0,919.7 1489.2,916.1 1490.5,911.2 1491.8,909.1 1493.0,903.2 1494.2,899.0 1495.5,894.8 1496.8,890.7 1498.0,887.0 1499.2,884.6 1500.5,881.8 1501.8,880.4 1503.0,877.5 1504.2,873.6 1505.5,872.7 1506.8,870.4 1508.0,866.6 1509.2,865.1 1510.5,862.7 1511.8,863.8 1513.0,862.7 1514.2,861.3 1515.5,861.2 1516.8,861.3 1518.0,860.0 1519.2,860.1 1520.5,859.7 1521.8,857.7 1523.0,857.1 1524.2,857.9 1525.5,855.2 1526.8,853.3 1528.0,852.9 1529.2,850.7 1530.5,851.6 1531.8,849.8 1533.0,849.7 1534.2,848.9 1535.5,847.8 1536.8,847.6 1538.0,846.3 1539.2,844.9 1540.5,844.0 1541.8,843.7 1543.0,841.4 1544.2,844.2 1545.5,841.5 1546.8,843.5 1548.0,843.1 1549.2,843.2 1550.5,845.4 1551.8,845.8 1553.0,846.6 1554.2,847.9 1555.5,848.0 1556.8,849.9 1558.0,851.0 1559.2,851.4 1560.5,852.5 1561.8,854.2 1563.0,854.1 1564.2,854.1 1565.5,851.9 1566.8,853.7 1568.0,853.8 1569.2,853.2 1570.5,853.4 1571.8,855.0 1573.0,857.2 1574.2,861.4 1575.5,864.0 1576.8,867.7 1578.0,871.4 1579.2,873.9 1580.5,877.6 1581.8,879.8 1583.0,883.3 1584.2,885.3 1585.5,886.0 1586.8,887.2 1588.0,887.3 1589.2,888.0 1590.5,888.5 1591.8,889.9 1593.0,895.4 1594.2,900.0 1595.5,903.9 1596.8,905.9 1598.0,908.2 1599.2,906.6 1600.5,907.0 1601.8,909.6 1603.0,910.2 1604.2,913.2 1605.5,917.1 1606.8,919.5 1608.0,923.6 1609.2,929.3 1610.5,932.9 1611.8,934.8 1613.0,940.3 1614.2,941.3 1615.5,945.0 1616.8,949.1 1618.0,950.7 1619.2,953.8 1620.5,956.6 1621.8,958.9 1623.0,962.4 1624.2,964.7 1625.5,965.3 1626.8,967.6 1628.0,970.2 1629.2,972.0 1630.5,973.4 1631.8,976.3 1633.0,978.6 1634.2,979.7 1635.5,983.5 1636.8,984.3 1638.0,987.0 1639.2,991.4 1640.5,993.0 1641.8,995.7 1643.0,999.2 1644.2,1001.8 1645.5,1005.4 1646.8,1006.9 1648.0,1010.2 1649.2,1013.0 1650.5,1010.6 1651.8,1009.0 1653.0,1011.0 1654.2,1010.9 1655.5,1011.6 1656.8,1013.1 1658.0,1016.7 1659.2,1022.5 1660.5,1026.1 1661.8,1028.3 1663.0,1034.5 1664.2,1033.2 1665.5,1033.7 1666.8,1032.0 1668.0,1032.4 1669.2,1031.4 1670.5,1031.2 1671.8,1031.8 1673.0,1034.6 1674.2,1038.1 1675.5,1041.7 1676.8,1044.7 1678.0,1048.8 1679.2,1048.4 1680.5,1048.6 1681.8,1049.9 1683.0,1048.3 1684.2,1048.8 1685.5,1048.0 1686.8,1049.1 1688.0,1052.3 1689.2,1053.1 1690.5,1056.0 1691.8,1055.9 1693.0,1057.6 1694.2,1060.9 1695.5,1061.4 1696.8,1063.8 1698.0,1061.0 1699.2,1057.2 1700.5,1056.4 1701.8,1054.5 1703.0,1054.8 1704.2,1054.0 1705.5,1054.3 1706.8,1054.3 1708.0,1052.5 1709.2,1051.3 1710.5,1052.2 1711.8,1051.2 1713.0,1051.8 1714.2,1050.3 1715.5,1051.6 1716.8,1051.9 1718.0,1052.2 1719.2,1052.8 1720.5,1054.3 1721.8,1055.2 1723.0,1053.4 1724.2,1052.1 1725.5,1052.2 1726.8,1051.2 1728.0,1049.5 1729.2,1050.0 1730.5,1049.9 1731.8,1047.4 1733.0,1045.6 1734.2,1045.9 1735.5,1045.9 1736.8,1044.1 1738.0,1044.5 1739.2,1045.9 1740.5,1045.8 1741.8,1045.5 1743.0,1045.2 1744.2,1044.6 1745.5,1041.1 1746.8,1038.7 1748.0,1034.1 1749.2,1032.8 1750.5,1029.8 1751.8,1028.4 1753.0,1028.3 1754.2,1024.9 1755.5,1024.8 1756.8,1023.8 1758.0,1021.6 1759.2,1017.1 1760.5,1015.2 1761.8,1011.3 1763.0,1012.3 1764.2,1011.5 1765.5,1013.2 1766.8,1012.3 1768.0,1013.1 1769.2,1009.9 1770.5,1005.8 1771.8,1002.8 1773.0,1000.2 1774.2,995.8 1775.5,992.8 1776.8,991.2 1778.0,989.5 1779.2,985.4 1780.5,983.2 1781.8,981.0 1783.0,977.6 1784.2,975.0 1785.5,972.7 1786.8,968.7 1788.0,965.6 1789.2,963.2 1790.5,959.8 1791.8,956.4 1793.0,953.7 1794.2,950.9 1795.5,950.7 1796.8,946.4 1798.0,944.7 1799.2,944.0 1800.5,941.8 1801.8,942.2 1803.0,940.4 1804.2,938.4 1805.5,939.1 1806.8,937.6 1808.0,937.3 1809.2,935.4 1810.5,933.9 1811.8,928.6 1813.0,925.9 1814.2,923.3 1815.5,920.1 1816.8,917.0 1818.0,914.2 1819.2,912.3 1820.5,910.9 1821.8,908.1 1823.0,907.0 1824.2,905.5 1825.5,906.3 1826.8,903.2 1828.0,904.9 1829.2,901.9 1830.5,902.5 1831.8,903.6 1833.0,906.4 1834.2,907.9 1835.5,907.6 1836.8,909.8 1838.0,910.5 1839.2,911.2 1840.5,912.2 1841.8,913.4 1843.0,912.0 1844.2,912.4 1845.5,915.1 1846.8,916.6 1848.0,919.3 1849.2,919.5 1850.5,922.2 1851.8,926.3 1853.0,926.1 1854.2,929.8 1855.5,931.2 1856.8,933.8 1858.0,935.4 1859.2,939.8 1860.5,939.6 1861.8,944.0 1863.0,948.9 1864.2,955.3 1865.5,959.3 1866.8,964.3 1868.0,967.4 1869.2,971.1 1870.5,974.8 1871.8,979.2 1873.0,981.7 1874.2,984.7 1875.5,991.2 1876.8,994.7 1878.0,998.1 1879.2,1003.6 1880.5,1007.9 1881.8,1015.4 1883.0,1018.5 1884.2,1022.2 1885.5,1029.0 1886.8,1034.0 1888.0,1041.7 1889.2,1046.7 1890.5,1051.1 1891.8,1058.3 1893.0,1064.7 1894.2,1071.8 1895.5,1078.7 1896.8,1084.3 1898.0,1092.4 1899.2,1097.9 1900.5,1104.3 1901.8,1112.1 1903.0,1119.5 1904.2,1124.0 1905.5,1130.8 1906.8,1132.2 1908.0,1138.8 1909.2,1142.5 1910.5,1148.0 1911.8,1154.1 1913.0,1161.3 1914.2,1168.4 1915.5,1173.5 1916.8,1177.5 1918.0,1182.3 1919.2,1183.3 1920.5,1187.0 1921.8,1189.1 1923.0,1192.8 1924.2,1200.4 1925.5,1202.7 1926.8,1207.6 1928.0,1212.9 1929.2,1219.2 1930.5,1224.4 1931.8,1231.2 1933.0,1233.7 1934.2,1234.1 1935.5,1237.5 1936.8,1239.3 1938.0,1240.3 1939.2,1242.5 1940.5,1244.0 1941.8,1247.3 1943.0,1246.6 1944.2,1247.3 1945.5,1249.9 1946.8,1249.5 1948.0,1252.8 1949.2,1255.3 1950.5,1256.8 1951.8,1259.6 1953.0,1262.0 1954.2,1266.3 1955.5,1267.1 1956.8,1267.3 1958.0,1268.7 1959.2,1271.1 1960.5,1272.5 1961.8,1273.4 1963.0,1275.6 1964.2,1275.6 1965.5,1277.1 1966.8,1277.1 1968.0,1277.1 1969.2,1277.8 1970.5,1277.4 1971.8,1279.3 1973.0,1279.5 1974.2,1279.4 1975.5,1280.5 1976.8,1280.6 1978.0,1283.6 1979.2,1281.9 1980.5,1283.3 1981.8,1283.8 1983.0,1283.2 1984.2,1284.2 1985.5,1284.3 1986.8,1285.1 1988.0,1285.5 1989.2,1286.2 1990.5,1286.0 1991.8,1284.2 1993.0,1283.2 1994.2,1282.3 1995.5,1281.1 1996.8,1279.6 1998.0,1280.6 1999.2,1279.7 2000.5,1279.2 2001.8,1277.8 2003.0,1277.6 2004.2,1276.5 2005.5,1278.1 2006.8,1278.4 2008.0,1278.0 2009.2,1277.2 2010.5,1276.1 2011.8,1276.6 2013.0,1277.1 2014.2,1278.6 2015.5,1279.6 2016.8,1279.7 2018.0,1279.7 2019.2,1279.9 2020.5,1279.4 2021.8,1278.6 2023.0,1276.7 2024.2,1277.6 2025.5,1278.5 2026.8,1277.7 2028.0,1278.0 2029.2,1276.6 2030.5,1276.7 2031.8,1277.2 2033.0,1277.3 2034.2,1277.2 2035.5,1277.9 2036.8,1278.3 2038.0,1278.4 2039.2,1276.2 2040.5,1277.1 2041.8,1276.3 2043.0,1275.3 2044.2,1273.3 2045.5,1274.8 2046.8,1272.0 2048.0,1271.9 2049.2,1269.0 2050.5,1269.8 2051.8,1269.4 2053.0,1268.2 2054.2,1268.9 2055.5,1269.6 2056.8,1266.4 2058.0,1265.8 2059.2,1267.2 2060.5,1265.6 2061.8,1264.3 2063.0,1262.9 2064.2,1264.0 2065.5,1263.2 2066.8,1263.9 2068.0,1261.6 2069.2,1261.8 2070.5,1261.3 2071.8,1260.9 2073.0,1261.6 2074.2,1261.0 2075.5,1259.4 2076.8,1259.1 2078.0,1258.2 2079.2,1258.3 2080.5,1256.7 2081.8,1255.2 2083.0,1255.0 2084.2,1254.5 2085.5,1254.7 2086.8,1254.6 2088.0,1254.2 2089.2,1253.0 2090.5,1251.9 2091.8,1252.4 2093.0,1251.3 2094.2,1250.6 2095.5,1250.9 2096.8,1250.6 2098.0,1250.5 2099.2,1248.7 2100.5,1247.7 2101.8,1249.0 2102.0,1248.5" fill="none" stroke="#0070E3" stroke-width="12" stroke-linejoin="round" stroke-linecap="butt"/>
<polyline points="1248.0,976.2 1249.2,973.5 1250.5,972.6 1251.8,968.8 1253.0,971.1 1254.2,970.6 1255.5,970.7 1256.8,969.3 1258.0,969.9 1259.2,968.8 1260.5,967.0 1261.8,970.3 1263.0,969.9 1264.2,970.9 1265.5,968.0 1266.8,967.2 1268.0,967.0 1269.2,965.3 1270.5,969.6 1271.8,966.0 1273.0,965.9 1274.2,967.6 1275.5,970.4 1276.8,968.3 1278.0,966.2 1279.2,966.7 1280.5,969.0 1281.8,967.6 1283.0,965.6 1284.2,964.9 1285.5,964.9 1286.8,965.4 1288.0,958.3 1289.2,957.7 1290.5,956.1 1291.8,954.8 1293.0,958.9 1294.2,960.2 1295.5,965.4 1296.8,963.2 1298.0,958.7 1299.2,960.6 1300.5,956.9 1301.8,952.6 1303.0,954.6 1304.2,955.4 1305.5,955.8 1306.8,958.2 1308.0,955.1 1309.2,958.9 1310.5,958.6 1311.8,955.8 1313.0,953.8 1314.2,951.3 1315.5,949.9 1316.8,944.2 1318.0,946.3 1319.2,940.5 1320.5,941.4 1321.8,937.9 1323.0,940.3 1324.2,937.8 1325.5,932.2 1326.8,932.6 1328.0,925.7 1329.2,928.2 1330.5,929.2 1331.8,928.1 1333.0,931.7 1334.2,934.1 1335.5,927.4 1336.8,929.0 1338.0,925.6 1339.2,927.2 1340.5,923.4 1341.8,923.5 1343.0,923.6 1344.2,923.1 1345.5,920.5 1346.8,925.4 1348.0,920.8 1349.2,923.7 1350.5,924.3 1351.8,921.9 1353.0,923.5 1354.2,925.3 1355.5,923.3 1356.8,921.8 1358.0,916.2 1359.2,916.1 1360.5,913.4 1361.8,910.1 1363.0,906.0 1364.2,904.9 1365.5,900.0 1366.8,899.3 1368.0,899.1 1369.2,894.9 1370.5,894.3 1371.8,897.5 1373.0,894.9 1374.2,890.8 1375.5,892.5 1376.8,893.2 1378.0,893.9 1379.2,889.7 1380.5,885.6 1381.8,882.4 1383.0,881.8 1384.2,878.3 1385.5,874.3 1386.8,874.0 1388.0,872.8 1389.2,873.9 1390.5,870.6 1391.8,871.8 1393.0,870.4 1394.2,866.9 1395.5,861.8 1396.8,862.6 1398.0,856.3 1399.2,855.3 1400.5,854.2 1401.8,854.1 1403.0,858.9 1404.2,860.5 1405.5,859.9 1406.8,855.5 1408.0,849.0 1409.2,843.9 1410.5,839.9 1411.8,840.7 1413.0,838.2 1414.2,835.3 1415.5,836.5 1416.8,834.2 1418.0,833.6 1419.2,835.2 1420.5,832.2 1421.8,825.6 1423.0,822.3 1424.2,819.4 1425.5,814.9 1426.8,812.2 1428.0,805.9 1429.2,808.1 1430.5,807.2 1431.8,805.9 1433.0,807.2 1434.2,806.2 1435.5,803.6 1436.8,803.8 1438.0,796.3 1439.2,794.9 1440.5,791.2 1441.8,788.4 1443.0,782.8 1444.2,780.5 1445.5,777.0 1446.8,775.6 1448.0,769.2 1449.2,767.3 1450.5,763.4 1451.8,757.2 1453.0,759.0 1454.2,749.4 1455.5,742.0 1456.8,742.0 1458.0,737.9 1459.2,740.7 1460.5,741.9 1461.8,739.7 1463.0,740.4 1464.2,740.6 1465.5,739.5 1466.8,731.9 1468.0,727.5 1469.2,724.3 1470.5,721.3 1471.8,716.9 1473.0,715.4 1474.2,710.3 1475.5,705.0 1476.8,702.3 1478.0,695.8 1479.2,694.0 1480.5,690.4 1481.8,689.1 1483.0,686.2 1484.2,681.2 1485.5,679.1 1486.8,675.4 1488.0,675.8 1489.2,674.4 1490.5,672.7 1491.8,669.2 1493.0,672.8 1494.2,670.3 1495.5,667.0 1496.8,665.2 1498.0,664.4 1499.2,664.1 1500.5,662.7 1501.8,660.7 1503.0,655.2 1504.2,650.3 1505.5,643.9 1506.8,635.9 1508.0,631.3 1509.2,625.0 1510.5,619.6 1511.8,626.5 1513.0,626.5 1514.2,634.7 1515.5,634.8 1516.8,638.7 1518.0,638.7 1519.2,635.5 1520.5,634.6 1521.8,632.1 1523.0,630.3 1524.2,629.8 1525.5,628.5 1526.8,631.8 1528.0,628.2 1529.2,630.9 1530.5,622.9 1531.8,627.0 1533.0,629.1 1534.2,628.9 1535.5,632.5 1536.8,632.9 1538.0,632.6 1539.2,635.1 1540.5,640.4 1541.8,634.6 1543.0,630.8 1544.2,625.6 1545.5,622.7 1546.8,616.3 1548.0,614.3 1549.2,621.0 1550.5,622.0 1551.8,624.6 1553.0,628.7 1554.2,633.4 1555.5,633.5 1556.8,635.2 1558.0,632.6 1559.2,630.3 1560.5,632.1 1561.8,624.3 1563.0,632.8 1564.2,643.3 1565.5,650.3 1566.8,660.6 1568.0,660.1 1569.2,659.1 1570.5,663.9 1571.8,659.5 1573.0,657.4 1574.2,658.8 1575.5,655.2 1576.8,657.4 1578.0,659.0 1579.2,663.6 1580.5,660.9 1581.8,667.1 1583.0,667.2 1584.2,665.6 1585.5,669.9 1586.8,667.1 1588.0,671.9 1589.2,675.4 1590.5,681.2 1591.8,685.6 1593.0,692.4 1594.2,692.2 1595.5,697.6 1596.8,698.5 1598.0,702.2 1599.2,703.7 1600.5,707.0 1601.8,705.0 1603.0,709.4 1604.2,710.0 1605.5,705.5 1606.8,705.6 1608.0,706.2 1609.2,711.6 1610.5,716.4 1611.8,714.8 1613.0,719.6 1614.2,721.5 1615.5,722.2 1616.8,722.2 1618.0,726.4 1619.2,724.7 1620.5,730.0 1621.8,729.8 1623.0,727.4 1624.2,728.2 1625.5,733.7 1626.8,742.1 1628.0,743.3 1629.2,746.1 1630.5,748.1 1631.8,748.4 1633.0,746.3 1634.2,749.8 1635.5,747.0 1636.8,749.5 1638.0,751.9 1639.2,757.8 1640.5,762.1 1641.8,763.1 1643.0,772.0 1644.2,773.0 1645.5,780.5 1646.8,782.6 1648.0,793.1 1649.2,793.7 1650.5,793.9 1651.8,793.3 1653.0,788.8 1654.2,786.4 1655.5,789.0 1656.8,790.4 1658.0,788.9 1659.2,790.4 1660.5,790.9 1661.8,787.0 1663.0,790.3 1664.2,791.4 1665.5,785.3 1666.8,781.1 1668.0,782.4 1669.2,782.2 1670.5,789.2 1671.8,792.4 1673.0,799.5 1674.2,801.0 1675.5,811.7 1676.8,813.3 1678.0,810.7 1679.2,803.8 1680.5,804.9 1681.8,797.1 1683.0,800.9 1684.2,801.8 1685.5,801.7 1686.8,805.4 1688.0,806.6 1689.2,809.4 1690.5,809.5 1691.8,811.3 1693.0,809.2 1694.2,812.2 1695.5,815.1 1696.8,818.1 1698.0,815.7 1699.2,815.4 1700.5,808.6 1701.8,806.9 1703.0,805.1 1704.2,802.0 1705.5,801.0 1706.8,796.9 1708.0,798.1 1709.2,795.9 1710.5,802.8 1711.8,805.4 1713.0,812.6 1714.2,812.2 1715.5,815.4 1716.8,812.6 1718.0,812.5 1719.2,812.9 1720.5,807.4 1721.8,802.5 1723.0,798.4 1724.2,795.9 1725.5,787.7 1726.8,786.5 1728.0,784.8 1729.2,791.5 1730.5,799.3 1731.8,807.0 1733.0,811.8 1734.2,811.5 1735.5,809.5 1736.8,806.3 1738.0,799.5 1739.2,800.5 1740.5,799.6 1741.8,801.1 1743.0,802.5 1744.2,799.9 1745.5,798.7 1746.8,795.3 1748.0,795.3 1749.2,794.7 1750.5,793.8 1751.8,788.7 1753.0,789.6 1754.2,789.5 1755.5,790.3 1756.8,786.5 1758.0,783.7 1759.2,778.0 1760.5,773.1 1761.8,768.7 1763.0,769.3 1764.2,767.9 1765.5,765.4 1766.8,765.8 1768.0,762.8 1769.2,764.0 1770.5,762.6 1771.8,763.1 1773.0,765.0 1774.2,758.9 1775.5,749.4 1776.8,745.8 1778.0,740.9 1779.2,735.4 1780.5,733.3 1781.8,735.2 1783.0,735.4 1784.2,730.7 1785.5,732.2 1786.8,731.4 1788.0,726.0 1789.2,726.4 1790.5,724.9 1791.8,723.8 1793.0,719.6 1794.2,720.8 1795.5,722.4 1796.8,721.9 1798.0,722.0 1799.2,717.3 1800.5,716.0 1801.8,708.9 1803.0,701.2 1804.2,701.7 1805.5,696.7 1806.8,695.1 1808.0,695.2 1809.2,699.8 1810.5,700.4 1811.8,701.8 1813.0,706.2 1814.2,705.5 1815.5,702.5 1816.8,703.6 1818.0,699.0 1819.2,696.6 1820.5,689.9 1821.8,681.3 1823.0,678.6 1824.2,684.3 1825.5,681.1 1826.8,684.2 1828.0,681.4 1829.2,680.5 1830.5,682.3 1831.8,679.5 1833.0,675.1 1834.2,675.0 1835.5,673.6 1836.8,673.7 1838.0,673.4 1839.2,673.5 1840.5,675.6 1841.8,676.0 1843.0,676.8 1844.2,679.7 1845.5,681.7 1846.8,687.9 1848.0,687.4 1849.2,690.2 1850.5,689.5 1851.8,689.6 1853.0,687.5 1854.2,685.5 1855.5,691.9 1856.8,694.0 1858.0,691.1 1859.2,695.5 1860.5,698.9 1861.8,698.5 1863.0,706.7 1864.2,706.6 1865.5,711.4 1866.8,725.7 1868.0,728.3 1869.2,728.0 1870.5,731.8 1871.8,728.3 1873.0,736.0 1874.2,733.8 1875.5,740.6 1876.8,744.4 1878.0,750.8 1879.2,759.6 1880.5,766.1 1881.8,771.1 1883.0,770.8 1884.2,771.7 1885.5,775.3 1886.8,779.6 1888.0,785.5 1889.2,794.1 1890.5,797.0 1891.8,803.8 1893.0,807.2 1894.2,809.2 1895.5,812.0 1896.8,817.5 1898.0,822.6 1899.2,825.7 1900.5,827.7 1901.8,832.3 1903.0,832.8 1904.2,839.9 1905.5,848.4 1906.8,858.2 1908.0,862.0 1909.2,866.5 1910.5,876.1 1911.8,882.6 1913.0,888.0 1914.2,890.6 1915.5,895.0 1916.8,900.0 1918.0,902.5 1919.2,906.5 1920.5,909.4 1921.8,906.6 1923.0,911.6 1924.2,917.3 1925.5,922.0 1926.8,928.2 1928.0,933.0 1929.2,937.1 1930.5,943.4 1931.8,945.4 1933.0,948.3 1934.2,952.2 1935.5,958.1 1936.8,963.1 1938.0,963.2 1939.2,967.0 1940.5,965.6 1941.8,964.1 1943.0,962.8 1944.2,966.9 1945.5,973.4 1946.8,983.4 1948.0,979.8 1949.2,980.9 1950.5,979.0 1951.8,975.0 1953.0,971.3 1954.2,970.3 1955.5,967.3 1956.8,972.2 1958.0,975.8 1959.2,973.6 1960.5,976.1 1961.8,979.7 1963.0,982.1 1964.2,983.5 1965.5,983.2 1966.8,981.7 1968.0,981.8 1969.2,984.9 1970.5,985.6 1971.8,982.8 1973.0,984.6 1974.2,984.9 1975.5,985.9 1976.8,982.2 1978.0,984.6 1979.2,981.5 1980.5,982.6 1981.8,982.9 1983.0,985.0 1984.2,987.5 1985.5,981.6 1986.8,981.4 1988.0,981.7 1989.2,977.0 1990.5,980.0 1991.8,976.0 1993.0,980.2 1994.2,979.3 1995.5,977.1 1996.8,977.4 1998.0,985.2 1999.2,986.3 2000.5,989.6 2001.8,993.2 2003.0,986.8 2004.2,988.0 2005.5,986.5 2006.8,982.9 2008.0,981.1 2009.2,979.5 2010.5,982.4 2011.8,981.8 2013.0,981.7 2014.2,980.9 2015.5,982.5 2016.8,982.2 2018.0,979.7 2019.2,979.5 2020.5,979.2 2021.8,979.0 2023.0,978.0 2024.2,978.4 2025.5,979.3 2026.8,981.3 2028.0,983.4 2029.2,984.0 2030.5,980.5 2031.8,980.2 2033.0,977.0 2034.2,979.6 2035.5,975.5 2036.8,976.1 2038.0,973.6 2039.2,973.7 2040.5,972.4 2041.8,975.8 2043.0,973.2 2044.2,972.8 2045.5,971.9 2046.8,972.9 2048.0,975.3 2049.2,977.6 2050.5,971.5 2051.8,970.9 2053.0,970.7 2054.2,968.5 2055.5,965.3 2056.8,966.7 2058.0,967.6 2059.2,963.4 2060.5,966.1 2061.8,967.1 2063.0,966.8 2064.2,964.1 2065.5,968.4 2066.8,964.8 2068.0,961.5 2069.2,963.6 2070.5,959.1 2071.8,961.6 2073.0,957.0 2074.2,959.5 2075.5,956.2 2076.8,957.7 2078.0,955.6 2079.2,953.6 2080.5,951.5 2081.8,951.8 2083.0,945.7 2084.2,948.7 2085.5,947.8 2086.8,947.2 2088.0,946.8 2089.2,950.9 2090.5,944.4 2091.8,945.3 2093.0,943.9 2094.2,946.1 2095.5,939.7 2096.8,945.8 2098.0,941.5 2099.2,938.6 2100.5,940.3 2101.8,941.6 2102.0,941.9" fill="none" stroke="#FF3E3D" stroke-width="12" stroke-linejoin="round" stroke-linecap="butt"/>
</g>
<g id="dotted" fill="none" stroke="#000" stroke-linecap="butt">
<path d="M574.5,560 L590.8,1519.5" stroke-width="8.6" stroke-dasharray="13.6 33.6"/>
<path d="M802.5,503.2 L739.0,1554.5" stroke-width="8.6" stroke-dasharray="13.6 33.65"/>
<path d="M1547.1,611 V1522" stroke-width="8.2" stroke-dasharray="14 33.2"/>
<path d="M1837.5,644.6 V1555" stroke-width="9" stroke-dasharray="14 33.17"/>
</g>
<g id="arrows" stroke="#000" stroke-width="2.8" fill="#000">
<line x1="468.6" y1="831.6" x2="537.2" y2="855.9"/>
<polygon stroke="none" points="577.7,870.2 533.8,865.5 540.6,846.2"/>
<line x1="885.7" y1="726.3" x2="822.9" y2="752.5"/>
<polygon stroke="none" points="783.2,769.1 818.9,743.1 826.8,761.9"/>
<line x1="448.9" y1="1111.9" x2="526.5" y2="1146.4"/>
<polygon stroke="none" points="565.8,1163.9 522.4,1155.7 530.7,1137.1"/>
<line x1="927.7" y1="1132.1" x2="824.5" y2="1043.3"/>
<polygon stroke="none" points="791.9,1015.2 831.1,1035.5 817.8,1051.0"/>
<line x1="506.7" y1="1409.8" x2="546.6" y2="1444.6"/>
<polygon stroke="none" points="579.0,1472.8 539.9,1452.2 553.3,1436.9"/>
<line x1="858.9" y1="1422.9" x2="787.1" y2="1444.6"/>
<polygon stroke="none" points="745.9,1457.1 784.1,1434.9 790.0,1454.4"/>
</g>
<g id="legend">
<line x1="1308.8" y1="102" x2="1489.1" y2="102" stroke="#747474" stroke-width="12" stroke-linecap="round"/>
<text x="1510.2" y="129.1" font-size="81.2">MoS<tspan font-size="57" dy="22.6">2</tspan><tspan dy="-22.6">/CNF-5%</tspan></text>
<line x1="1308.8" y1="221" x2="1489.1" y2="221" stroke="#FF3E3D" stroke-width="12" stroke-linecap="round"/>
<text x="1510.2" y="248.1" font-size="81.2">MoS<tspan font-size="57" dy="22.6">2</tspan><tspan dy="-22.6">/CNF-10%</tspan></text>
<line x1="1308.8" y1="340" x2="1489.1" y2="340" stroke="#0070E3" stroke-width="12" stroke-linecap="round"/>
<text x="1510.2" y="367.1" font-size="81.2">MoS<tspan font-size="57" dy="22.6">2</tspan><tspan dy="-22.6">/CNF-15%</tspan></text>
</g>
<g id="ticklabels" font-size="67.5" text-anchor="middle">
<text transform="translate(169.0,1697.4) scale(0.982,1.04)">300</text>
<text transform="translate(432.3,1697.4) scale(0.982,1.04)">350</text>
<text transform="translate(695.7,1697.4) scale(0.982,1.04)">400</text>
<text transform="translate(959.0,1697.4) scale(0.982,1.04)">450</text>
<text transform="translate(1374.5,1697.4) scale(0.982,1.04)">1200</text>
<text transform="translate(1614.7,1697.4) scale(0.982,1.04)">1400</text>
<text transform="translate(1854.8,1697.4) scale(0.982,1.04)">1600</text>
<text transform="translate(2095.0,1697.4) scale(0.982,1.04)">1800</text>
</g>
<text id="xtitle" x="720" y="1857" font-size="101.5">Raman<tspan dx="6.3"> shift</tspan><tspan dx="0.3"> (</tspan><tspan dx="1.5">cm</tspan><tspan font-size="71.5" dy="-42.7" dx="1.5">-1</tspan><tspan dy="42.7" dx="-1.5">)</tspan></text>
<text id="ytitle" transform="translate(97.3,1138) rotate(-90)" font-size="103.8">Intensity (a.u.)</text>
<g id="annot" font-size="103">
<text x="225.5" y="856.5">379.1</text>
<text x="888.5" y="757">416.3</text>
<text x="187.5" y="1148.5">377.2</text>
<text x="932.5" y="1187.5">418.1</text>
<text x="253.7" y="1459.5">380.8</text>
<text x="861.5" y="1454">409.2</text>
<text x="1423.5" y="611.5">1340.2</text>
<text x="1748.5" y="625">1589.1</text>
<text x="1525.5" y="483.4">D</text>
<text x="1824.5" y="494.3">G</text>
<text x="519" y="521.6">E<tspan font-size="72" dy="-41.7" dx="-2">1</tspan></text>
<text x="585" y="549.4" font-size="71.5">2g</text>
<text x="744.5" y="461.7">A<tspan font-size="72" dy="27.8" dx="-2">1g</tspan></text>
</g>
</svg></body></html>
